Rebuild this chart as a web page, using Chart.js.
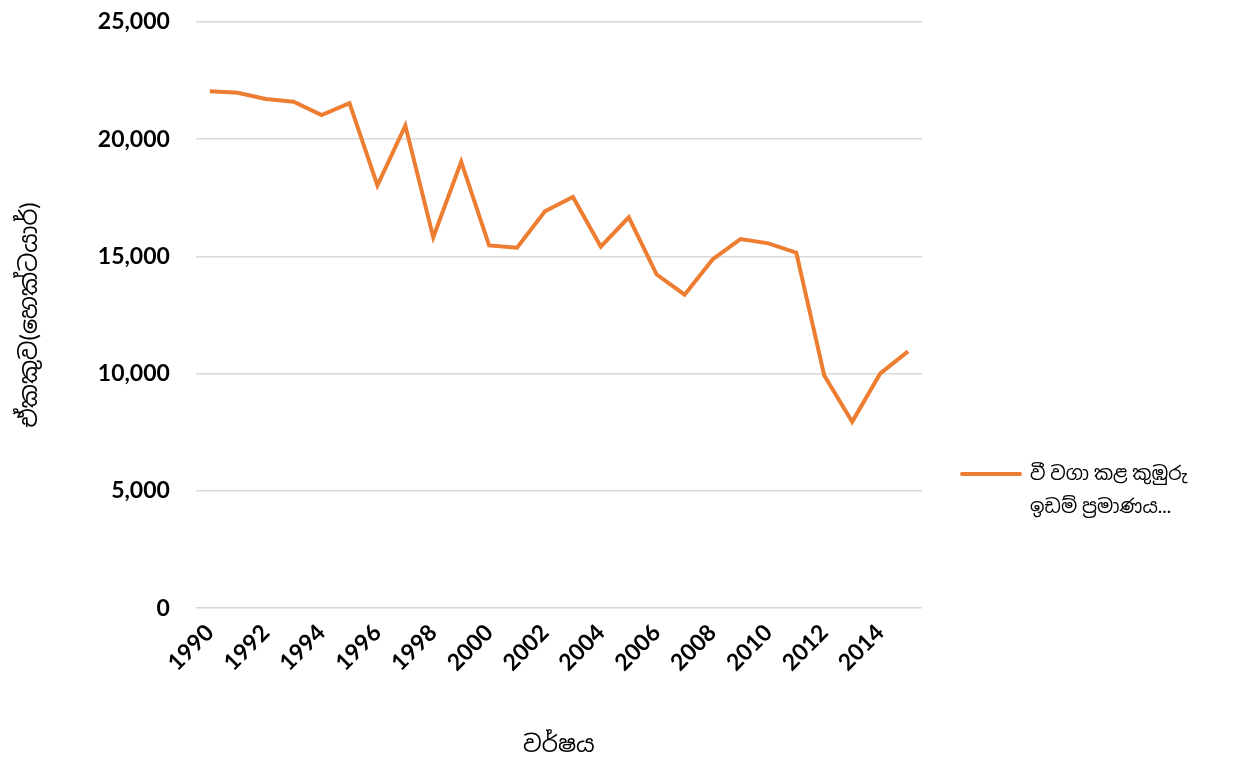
<!DOCTYPE html>
<html>
<head>
<meta charset="utf-8">
<script src="https://cdn.jsdelivr.net/npm/chart.js@4/dist/chart.umd.min.js"></script>
<style>
  html, body { margin: 0; padding: 0; background: #fff; }
</style>
</head>
<body>
<canvas id="myChart" width="1234" height="762"></canvas>
<script>
  // *****************Data*****************
  const YEARS = [
    "1990", "1991", "1992", "1993", "1994", "1995", "1996", "1997", "1998",
    "1999", "2000", "2001", "2002", "2003", "2004", "2005", "2006", "2007",
    "2008", "2009", "2010", "2011", "2012", "2013", "2014", "2015",
  ];
  const AREA = [
    22050, 21980, 21720, 21600, 21030, 21540, 18030, 20580, 15820,
    19040, 15470, 15370, 16930, 17540, 15420, 16670, 14230, 13370,
    14870, 15740, 15560, 15160, 9920, 7950, 10000, 10950,
  ];
  const SERIES_LABEL = ["වී වගා කළ කුඹුරු", "ඉඩම් ප්‍රමාණය..."];
  const Y_TITLE = "ඒකකුව(හෙක්ටයාර්)";
  const X_TITLE = "වර්ෂය";

  const ORANGE = "#ed7d31";
  const FONT = "Lato, 'Noto Sans', 'Noto Sans Sinhala', sans-serif";

  // legend drawn next to the plot, like the spreadsheet one
  const sideLegend = {
    id: "sideLegend",
    afterDraw(chart) {
      const { ctx, chartArea } = chart;
      const x = chartArea.right + 40;
      const y = chartArea.top + 452;
      ctx.save();
      ctx.strokeStyle = ORANGE;
      ctx.lineWidth = 4;
      ctx.lineCap = "round";
      ctx.beginPath();
      ctx.moveTo(x, y);
      ctx.lineTo(x + 58, y);
      ctx.stroke();
      ctx.fillStyle = "#000";
      ctx.font = "19px " + FONT;
      ctx.textBaseline = "middle";
      SERIES_LABEL.forEach((t, i) => ctx.fillText(t, x + 68, y + i * 33));
      ctx.restore();
    },
  };

  const config = {
    type: "line",
    data: {
      labels: YEARS,
      datasets: [
        {
          label: SERIES_LABEL.join(" "),
          data: AREA,
          borderColor: ORANGE,
          backgroundColor: ORANGE,
          borderWidth: 4,
          pointRadius: 0,
          tension: 0,
        },
      ],
    },
    plugins: [sideLegend],
    options: {
      responsive: false,
      animation: false,
      layout: { padding: { top: 22, right: 312, left: 11, bottom: 0 } },
      plugins: {
        legend: { display: false },
        tooltip: { enabled: false },
      },
      scales: {
        x: {
          offset: true,
          grid: { display: false },
          border: { display: false },
          ticks: {
            autoSkip: false,
            maxRotation: 45,
            minRotation: 45,
            color: "#000",
            font: { family: FONT, size: 23, weight: "bold" },
            callback: function (val, i) {
              return i % 2 === 0 ? this.getLabelForValue(val) : "";
            },
          },
          title: {
            display: true,
            text: X_TITLE,
            color: "#000",
            font: { family: FONT, size: 23 },
            padding: { top: 51 },
          },
        },
        y: {
          min: 0,
          max: 25000,
          grid: {
            color: "#d9d9d9",
            lineWidth: 1.5,
            drawTicks: true,
            tickLength: 23,
            tickColor: "rgba(0,0,0,0)",
          },
          border: { display: false },
          ticks: {
            stepSize: 5000,
            padding: 3,
            color: "#000",
            font: { family: FONT, size: 23, weight: "bold", lineHeight: 1 },
            callback: (v) => v.toLocaleString("en-US"),
          },
          title: {
            display: true,
            text: Y_TITLE,
            color: "#000",
            font: { family: FONT, size: 24 },
            padding: { bottom: 51 },
          },
        },
      },
    },
  };

  const myChart = new Chart(document.getElementById("myChart"), config);
</script>
</body>
</html>
